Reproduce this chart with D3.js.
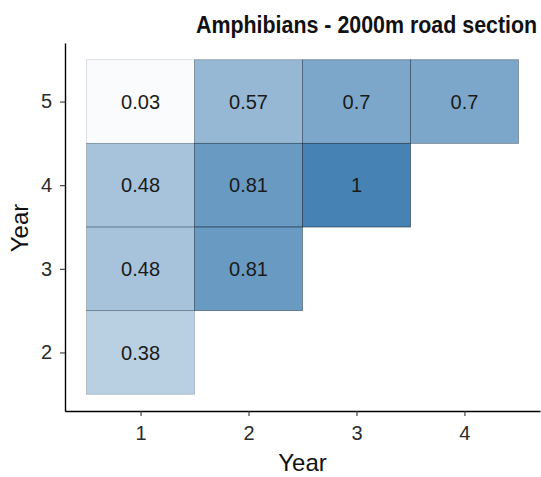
<!DOCTYPE html>
<html>
<head>
<meta charset="utf-8">
<script src="https://d3js.org/d3.v7.min.js"></script>
<style>
  body { margin: 0; background: #fff; }
  text { font-family: "Liberation Sans", Arial, sans-serif; }
</style>
</head>
<body>
<script>
'use strict';

// tile data: column year, row year, value
const colYears = [1, 2, 3, 4, 1, 2, 3, 1, 2, 1];
const rowYears = [5, 5, 5, 5, 4, 4, 4, 3, 3, 2];
const values   = [0.03, 0.57, 0.7, 0.7, 0.48, 0.81, 1, 0.48, 0.81, 0.38];
const labels   = ["0.03", "0.57", "0.7", "0.7", "0.48", "0.81", "1", "0.48", "0.81", "0.38"];
const xTicks = [1, 2, 3, 4];
const yTicks = [2, 3, 4, 5];

const width = 541, height = 477;

const svg = d3.select('body')
  .append('svg')
  .attr('width', width)
  .attr('height', height);

// scales (continuous, padded like ggplot)
const xScale = d3.scaleLinear().domain([0.3, 4.7]).range([65, 540]);
const yScale = d3.scaleLinear().domain([1.3, 5.7]).range([411, 43]);

const rows = values.map((v, i) => ({x: colYears[i], y: rowYears[i], v: v, label: labels[i]}));

// tiles
svg.selectAll('.tile')
  .data(rows)
  .enter()
  .append('rect')
    .attr('class', 'tile')
    .attr('x', d => xScale(d.x - 0.5))
    .attr('y', d => yScale(d.y + 0.5))
    .attr('width', d => xScale(d.x + 0.5) - xScale(d.x - 0.5))
    .attr('height', d => yScale(d.y - 0.5) - yScale(d.y + 0.5))
    .attr('fill', 'steelblue')
    .attr('fill-opacity', d => d.v)
    .attr('stroke', '#1a2a3a')
    .attr('stroke-opacity', d => Math.max(d.v, 0.25) * 0.7)
    .attr('stroke-width', 0.8);

// tile labels
svg.selectAll('.lab')
  .data(rows)
  .enter()
  .append('text')
    .attr('class', 'lab')
    .attr('x', d => xScale(d.x))
    .attr('y', d => yScale(d.y))
    .attr('dy', '0.36em')
    .attr('text-anchor', 'middle')
    .style('font-size', '20px')
    .style('fill', '#1a1a1a')
    .text(d => d.label);

// axes
const xAxis = d3.axisBottom(xScale).tickValues(xTicks).tickFormat(d3.format('d'))
  .tickSizeInner(5).tickSizeOuter(0).tickPadding(10);
const gx = svg.append('g')
  .attr('transform', 'translate(0,' + 411 + ')')
  .call(xAxis);

const yAxis = d3.axisLeft(yScale).tickValues(yTicks).tickFormat(d3.format('d'))
  .tickSizeInner(5).tickSizeOuter(0).tickPadding(8);
const gy = svg.append('g')
  .attr('transform', 'translate(' + 65 + ',0)')
  .call(yAxis);

[gx, gy].forEach(g => {
  g.attr('font-size', null).attr('font-family', null);
  g.select('.domain').attr('stroke', '#000').attr('stroke-width', 1.4);
  g.selectAll('.tick line').attr('stroke', '#333').attr('stroke-width', 1.1);
  g.selectAll('.tick text')
    .style('font-size', '20px')
    .attr('fill', '#2b2b2b');
});

// titles
svg.append('text')
  .attr('transform', 'translate(196,33)scale(1,1.1)')
  .style('font-size', '21.4px')
  .style('font-weight', 'bold')
  .style('fill', '#111')
  .text('Amphibians - 2000m road section');

svg.append('text')
  .attr('x', xScale(2.5))
  .attr('y', 471)
  .attr('text-anchor', 'middle')
  .style('font-size', '24px')
  .style('fill', '#111')
  .text('Year');

svg.append('text')
  .attr('transform', 'translate(28,' + 228 + ')rotate(-90)')
  .attr('text-anchor', 'middle')
  .style('font-size', '24px')
  .style('fill', '#111')
  .text('Year');
</script>
</body>
</html>
